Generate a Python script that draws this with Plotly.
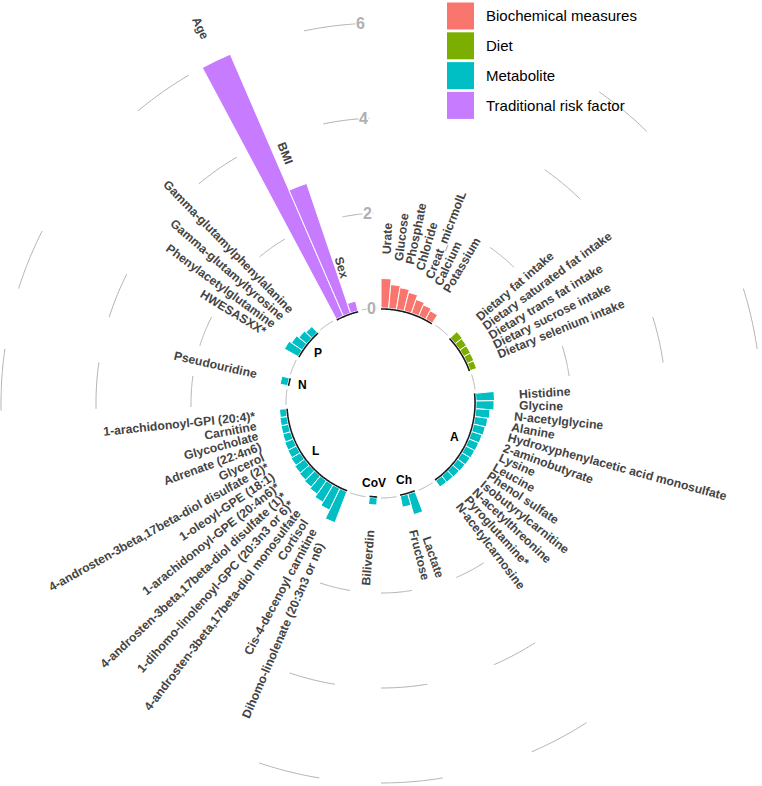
import numpy as np
import plotly.graph_objects as go

# ---------------- data ----------------
category_names = ["Biochemical measures", "Diet", "Metabolite", "Traditional risk factor"]
category_colors = ["#F8766D", "#7CAE00", "#00BFC4", "#C77CFF"]

biochem_labels = ["Urate", "Glucose", "Phosphate", "Chloride", "Creat_micrmolL", "Calcium", "Potassium"]
biochem_values = [0.62, 0.50, 0.46, 0.40, 0.30, 0.25, 0.20]

diet_labels = ["Dietary fat intake", "Dietary saturated fat intake", "Dietary trans fat intake",
               "Dietary sucrose intake", "Dietary selenium intake"]
diet_values = [0.19, 0.17, 0.16, 0.15, 0.14]

a_labels = ["Histidine", "Glycine", "N-acetylglycine", "Alanine",
            "Hydroxyphenylacetic acid monosulfate", "2-aminobutyrate", "Lysine", "Leucine",
            "Phenol sulfate", "Isobutyrylcarnitine", "N-acetylthreonine", "Pyroglutamine*",
            "N-acetylcarnosine"]
a_values = [0.39, 0.38, 0.30, 0.27, 0.25, 0.23, 0.22, 0.21, 0.20, 0.19, 0.18, 0.17, 0.16]

ch_labels = ["Lactate", "Fructose"]
ch_values = [0.45, 0.24]

cov_labels = ["Biliverdin"]
cov_values = [0.15]

l_labels = ["Dihomo-linolenate (20:3n3 or n6)", "Cis-4-decenoyl carnitine", "Cortisol",
            "4-androsten-3beta,17beta-diol monosulfate", "1-dihomo-linolenoyl-GPC (20:3n3 or 6)*",
            "4-androsten-3beta,17beta-diol disulfate (1)*", "1-arachidonoyl-GPE (20:4n6)*",
            "1-oleoyl-GPE (18:1)", "4-androsten-3beta,17beta-diol disulfate (2)*", "Glycerol",
            "Adrenate (22:4n6)", "Glycocholate", "Carnitine", "1-arachidonoyl-GPI (20:4)*"]
l_values = [0.70, 0.50, 0.42, 0.34, 0.30, 0.27, 0.25, 0.22, 0.20, 0.19, 0.17, 0.16, 0.15, 0.14]

n_labels = ["Pseudouridine"]
n_values = [0.16]

p_labels = ["HWESASXX*", "Phenylacetylglutamine", "Gamma-glutamyltyrosine", "Gamma-glutamylphenylalanine"]
p_values = [0.33, 0.27, 0.21, 0.17]

trad_labels = ["Age", "BMI", "Sex"]
trad_values = [6.0, 2.88, 0.21]

grid_values = [0, 2, 4, 6]

sections = [
    ("Biochemical measures", "", biochem_labels, biochem_values),
    ("Diet", "", diet_labels, diet_values),
    ("Metabolite", "A", a_labels, a_values),
    ("Metabolite", "Ch", ch_labels, ch_values),
    ("Metabolite", "CoV", cov_labels, cov_values),
    ("Metabolite", "L", l_labels, l_values),
    ("Metabolite", "N", n_labels, n_values),
    ("Metabolite", "P", p_labels, p_values),
    ("Traditional risk factor", "", trad_labels, trad_values),
]

# ---------------- geometry ----------------
W, H = 762, 786
CX, CY = 381, 403          # centre of the polar area in px
R_MIN = -2.0               # radial value at the centre
PX_PER_UNIT = 47.5
R_MAX = R_MIN + (W / 2) / PX_PER_UNIT
EMPTY = 3                  # empty slots after every section

slots = []
pos = 0
for cat, sub, labs, vals in sections:
    slots.append(list(range(pos, pos + len(labs))))
    pos += len(labs) + EMPTY
N_SLOTS = pos
STEP = 360.0 / N_SLOTS


def slot_theta(s):
    return (s + 0.5) * STEP


def rpx(v):
    return (v - R_MIN) * PX_PER_UNIT


def to_paper(theta, r):
    t = np.radians(theta)
    px = CX + r * np.sin(t)
    py = CY - r * np.cos(t)
    return px / W, 1 - py / H


BOLD_W = {' ': 278, '-': 333, '(': 333, ')': 333, ',': 278, ':': 333, '*': 389, '_': 556, '.': 278,
          'a': 556, 'b': 611, 'c': 556, 'd': 611, 'e': 556, 'f': 333, 'g': 611, 'h': 611, 'i': 278,
          'j': 278, 'k': 556, 'l': 278, 'm': 889, 'n': 611, 'o': 611, 'p': 611, 'q': 611, 'r': 389,
          's': 556, 't': 333, 'u': 611, 'v': 556, 'w': 778, 'x': 556, 'y': 556, 'z': 500,
          'A': 722, 'B': 722, 'C': 722, 'D': 722, 'E': 667, 'F': 611, 'G': 778, 'H': 722, 'I': 278,
          'J': 556, 'K': 722, 'L': 611, 'M': 833, 'N': 722, 'O': 778, 'P': 667, 'Q': 778, 'R': 722,
          'S': 667, 'T': 611, 'U': 722, 'V': 667, 'W': 944, 'X': 667, 'Y': 667, 'Z': 611}


def text_width(s, size):
    return sum(BOLD_W.get(ch, 556) for ch in s) / 1000.0 * size


def text_angle(theta):
    a = 90 - theta
    if a < -90:
        a += 180
    return -a


FONT = "Liberation Sans, Arial, sans-serif"
LABEL_SIZE = 12.2

fig = go.Figure()

# bars, one trace per category
for cat, col in zip(category_names, category_colors):
    th, rr = [], []
    for (c, sub, labs, vals), sl in zip(sections, slots):
        if c == cat:
            th += [slot_theta(s) for s in sl]
            rr += list(vals)
    fig.add_trace(go.Barpolar(
        theta=th, r=rr, base=0, width=STEP, name=cat,
        marker=dict(color=col, line=dict(color="white", width=1)),
        hoverinfo="skip"
    ))

# grey grid arcs in the gaps
for sl in slots:
    g0 = slot_theta(sl[-1] + 1)
    g1 = slot_theta(sl[-1] + EMPTY)
    arc = np.linspace(g0, g1, 30)
    for gv in grid_values:
        fig.add_trace(go.Scatterpolar(
            theta=arc, r=[gv] * len(arc), mode="lines",
            line=dict(color="#b0b0b0", width=1), hoverinfo="skip"
        ))

# black base line under each section
for sl in slots:
    arc = np.linspace(sl[0] * STEP, (sl[-1] + 1) * STEP, 40)
    fig.add_trace(go.Scatterpolar(
        theta=arc, r=[-0.02] * len(arc), mode="lines",
        line=dict(color="#1a1a1a", width=1.6), hoverinfo="skip"
    ))

annotations = []

# bar labels
for (cat, sub, labs, vals), sl in zip(sections, slots):
    for s, lab, v in zip(sl, labs, vals):
        th = slot_theta(s)
        rc = rpx(v + 0.5) + text_width(lab, LABEL_SIZE) / 2 + 1
        x, y = to_paper(th, rc)
        annotations.append(dict(
            x=x, y=y, xref="paper", yref="paper", text=lab, showarrow=False,
            textangle=text_angle(th), xanchor="center", yanchor="middle",
            font=dict(family=FONT, size=LABEL_SIZE, color="#444444", weight="bold")
        ))
    if sub:
        th = (slot_theta(sl[0]) + slot_theta(sl[-1])) / 2
        x, y = to_paper(th, rpx(-0.3))
        annotations.append(dict(
            x=x, y=y, xref="paper", yref="paper", text=sub, showarrow=False,
            xanchor="center", yanchor="middle",
            font=dict(family=FONT, size=12, color="black", weight="bold")
        ))

# radial value labels in the last gap
for gv in grid_values:
    x, y = to_paper(slot_theta(N_SLOTS - 1), rpx(gv))
    annotations.append(dict(
        x=x, y=y, xref="paper", yref="paper", text=str(gv), showarrow=False,
        xanchor="right", yanchor="middle", bgcolor="white", borderpad=0,
        font=dict(family=FONT, size=16, color="#b0b0b0", weight="bold")
    ))

# legend
shapes = []
key_x0, key_size, key_gap, key_top = 447, 27, 2.8, 2.5
for i, (cat, col) in enumerate(zip(category_names, category_colors)):
    top = key_top + i * (key_size + key_gap)
    shapes.append(dict(type="rect", xref="paper", yref="paper",
                       x0=key_x0 / W, x1=(key_x0 + key_size) / W,
                       y0=1 - (top + key_size) / H, y1=1 - top / H,
                       fillcolor=col, line=dict(width=0)))
    annotations.append(dict(
        x=(key_x0 + key_size + 10) / W, y=1 - (top + key_size / 2) / H,
        xref="paper", yref="paper", text=cat, showarrow=False,
        xanchor="left", yanchor="middle",
        font=dict(family=FONT, size=15, color="black")
    ))

fig.update_layout(
    width=W, height=H,
    margin=dict(l=0, r=0, t=0, b=0),
    paper_bgcolor="white", plot_bgcolor="white",
    showlegend=False,
    polar=dict(
        domain=dict(x=[0, 1], y=[1 - (CY + W / 2) / H, 1 - (CY - W / 2) / H]),
        bgcolor="white",
        radialaxis=dict(visible=False, range=[R_MIN, R_MAX]),
        angularaxis=dict(visible=False, rotation=90, direction="clockwise", thetaunit="degrees"),
    ),
    annotations=annotations,
    shapes=shapes,
)

fig.write_html("out.html", config={"displayModeBar": False},
               post_script="document.body.style.margin='0';")
